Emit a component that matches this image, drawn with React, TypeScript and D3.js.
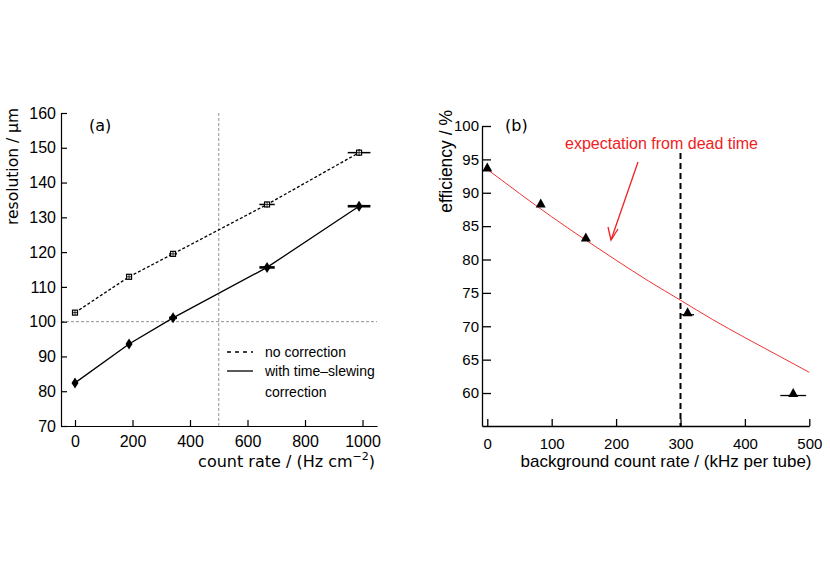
import React, { useEffect, useRef } from "react";
import * as d3 from "d3";

// Panel (a)
const rateA = [0, 188, 341, 668, 988];
const rateErrA = [0, 7.5, 13.6, 26.7, 39.5];
const noCorrection = [102.6, 112.9, 119.5, 133.7, 148.6];
const withCorrection = [82.4, 93.6, 101.1, 115.6, 133.2];
const resErr = [0.4, 0.5, 0.6, 0.8, 1.0];
const ticksXA = [0, 200, 400, 600, 800, 1000];
const ticksYA = [70, 80, 90, 100, 110, 120, 130, 140, 150, 160];

// Panel (b)
const rateB = [0, 83, 153, 311, 475];
const rateErrB = [0, 0, 0, 10, 20];
const efficiency = [93.8, 88.4, 83.3, 72.1, 60.0];
const deadTimeRate = [0, 50, 100, 150, 200, 250, 300, 350, 400, 450, 500];
const deadTimeEff = [93.5, 89.9, 86.4, 83.1, 79.9, 76.8, 73.9, 71.0, 68.3, 65.7, 63.1];
const ticksXB = [0, 100, 200, 300, 400, 500];
const ticksYB = [60, 65, 70, 75, 80, 85, 90, 95, 100];

const FONT = "'Liberation Sans', Arial, Helvetica, sans-serif";
const TEXFONT = "'DejaVu Sans', 'Liberation Sans', sans-serif";

export default function App() {
  const ref = useRef<SVGSVGElement | null>(null);

  useEffect(() => {
    const svg = d3.select(ref.current);
    svg.selectAll("*").remove();

    // ---------- Panel (a) ----------
    const xA = d3.scaleLinear().domain([-48.7, 1050.4]).range([61, 377]);
    const yA = d3.scaleLinear().domain([70, 160]).range([426, 113]);
    const gA = svg.append("g");

    gA.append("line")
      .attr("x1", 61).attr("x2", 377)
      .attr("y1", yA(100)).attr("y2", yA(100))
      .attr("stroke", "#777").attr("stroke-width", 0.8).attr("stroke-dasharray", "3,2");
    gA.append("line")
      .attr("x1", xA(500)).attr("x2", xA(500))
      .attr("y1", yA(160)).attr("y2", 426)
      .attr("stroke", "#777").attr("stroke-width", 0.8).attr("stroke-dasharray", "3,2");

    const fmt = d3.format("d");
    const axLA = gA.append("g").attr("transform", "translate(61,0)")
      .call(d3.axisLeft(yA).tickValues(ticksYA).tickFormat(fmt as any).tickSize(-6).tickSizeOuter(0).tickPadding(5));
    const axBA = gA.append("g").attr("transform", "translate(0,426)")
      .call(d3.axisBottom(xA).tickValues(ticksXA).tickFormat(fmt as any).tickSize(-6).tickSizeOuter(0).tickPadding(8));
    [axLA, axBA].forEach((a) => {
      a.selectAll("text").attr("font-size", 16).attr("font-family", FONT).attr("fill", "#000");
      a.selectAll("path,line").attr("stroke", "#000").attr("stroke-width", 1.2);
    });
    axBA.selectAll("text").attr("dy", "0.8em");

    const lineA = (vals: number[]) =>
      d3.line<number>().x((_, i) => xA(rateA[i])).y((v) => yA(v))(vals) as string;

    gA.append("path").attr("d", lineA(noCorrection)).attr("fill", "none")
      .attr("stroke", "#000").attr("stroke-width", 1.3).attr("stroke-dasharray", "3,2");
    gA.append("path").attr("d", lineA(withCorrection)).attr("fill", "none")
      .attr("stroke", "#000").attr("stroke-width", 1.3);

    noCorrection.forEach((v, i) => {
      const cx = xA(rateA[i]), cy = yA(v);
      gA.append("line").attr("x1", xA(rateA[i] - rateErrA[i])).attr("x2", xA(rateA[i] + rateErrA[i]))
        .attr("y1", cy).attr("y2", cy).attr("stroke", "#000").attr("stroke-width", 1.5);
      gA.append("line").attr("x1", cx).attr("x2", cx)
        .attr("y1", yA(v - resErr[i])).attr("y2", yA(v + resErr[i])).attr("stroke", "#000").attr("stroke-width", 1.5);
      gA.append("rect").attr("x", cx - 2.5).attr("y", cy - 2.5).attr("width", 5).attr("height", 5)
        .attr("fill", "#fff").attr("stroke", "#000").attr("stroke-width", 1.2);
      gA.append("path").attr("d", `M${cx - 2.5},${cy}H${cx + 2.5}M${cx},${cy - 2.5}V${cy + 2.5}`)
        .attr("stroke", "#000").attr("stroke-width", 0.8);
    });
    withCorrection.forEach((v, i) => {
      const cx = xA(rateA[i]), cy = yA(v);
      gA.append("line").attr("x1", xA(rateA[i] - rateErrA[i])).attr("x2", xA(rateA[i] + rateErrA[i]))
        .attr("y1", cy).attr("y2", cy).attr("stroke", "#000").attr("stroke-width", 2.6);
      gA.append("path").attr("d", `M${cx},${cy - 5.5}L${cx + 3.5},${cy}L${cx},${cy + 5.5}L${cx - 3.5},${cy}Z`)
        .attr("fill", "#000");
    });

    // legend
    gA.append("line").attr("x1", 227).attr("x2", 253).attr("y1", 352).attr("y2", 352)
      .attr("stroke", "#000").attr("stroke-width", 1.3).attr("stroke-dasharray", "4,4");
    gA.append("line").attr("x1", 227).attr("x2", 253).attr("y1", 371).attr("y2", 371)
      .attr("stroke", "#000").attr("stroke-width", 1.3);
    const legT = (t: string, y: number) =>
      gA.append("text").attr("x", 265).attr("y", y).attr("font-size", 14).attr("font-family", FONT)
        .attr("dominant-baseline", "central").text(t);
    legT("no correction", 352);
    legT("with time\u2013slewing", 371);
    legT("correction", 392);

    gA.append("text").attr("x", 89).attr("y", 131).attr("font-size", 16).attr("font-family", TEXFONT)
      .attr("fill", "#000").text("(a)");
    gA.append("text").attr("transform", "translate(18,108) rotate(-90)").attr("text-anchor", "end")
      .attr("font-size", 15.5).attr("font-family", TEXFONT).text("resolution / \u03bcm");
    const xl = gA.append("text").attr("x", 375).attr("y", 467).attr("text-anchor", "end")
      .attr("font-size", 16).attr("font-family", TEXFONT);
    xl.append("tspan").text("count rate / (Hz cm");
    xl.append("tspan").attr("dy", -7).attr("font-size", 11).text("\u22122");
    xl.append("tspan").attr("dy", 7).text(")");

    // ---------- Panel (b) ----------
    const xB = d3.scaleLinear().domain([-8.2, 500]).range([482, 809.3]);
    const yB = d3.scaleLinear().domain([55.06, 100]).range([426, 126]);
    const gB = svg.append("g");

    const axLB = gB.append("g").attr("transform", "translate(482,0)")
      .call(d3.axisLeft(yB).tickValues(ticksYB).tickSize(-9).tickSizeOuter(0).tickPadding(3));
    const axBB = gB.append("g").attr("transform", "translate(0,426)")
      .call(d3.axisBottom(xB).tickValues(ticksXB).tickSize(-7).tickSizeOuter(0).tickPadding(9));
    [axLB, axBB].forEach((a) => {
      a.selectAll("text").attr("font-size", 15).attr("font-family", FONT).attr("fill", "#000");
      a.selectAll("path,line").attr("stroke", "#000").attr("stroke-width", 1.3);
    });
    axBB.selectAll("text").attr("dy", "0.95em");

    gB.append("line").attr("x1", xB(300)).attr("x2", xB(300)).attr("y1", 153).attr("y2", 426)
      .attr("stroke", "#000").attr("stroke-width", 2).attr("stroke-dasharray", "6,4");

    const curve = d3.line<number>().x((_, i) => xB(deadTimeRate[i])).y((v) => yB(v)).curve(d3.curveMonotoneX);
    gB.append("path").attr("d", curve(deadTimeEff) as string).attr("fill", "none")
      .attr("stroke", "#ee3333").attr("stroke-width", 1);

    efficiency.forEach((v, i) => {
      const cx = xB(rateB[i]), cy = yB(v);
      if (rateErrB[i] > 0) {
        gB.append("line").attr("x1", xB(rateB[i] - rateErrB[i])).attr("x2", xB(rateB[i] + rateErrB[i]))
          .attr("y1", cy + 2.5).attr("y2", cy + 2.5).attr("stroke", "#000").attr("stroke-width", 1.3);
      }
      gB.append("path").attr("d", `M${cx},${cy - 5}L${cx + 5},${cy + 4}L${cx - 5},${cy + 4}Z`).attr("fill", "#000");
    });

    gB.append("text").attr("x", 565).attr("y", 149).attr("font-size", 16).attr("font-family", FONT)
      .attr("fill", "#ee2222").text("expectation from dead time");
    gB.append("line").attr("x1", 638).attr("y1", 162).attr("x2", 611).attr("y2", 240)
      .attr("stroke", "#ee2222").attr("stroke-width", 1.3);
    gB.append("path").attr("d", "M608,227L611,240L618,229").attr("fill", "none")
      .attr("stroke", "#ee2222").attr("stroke-width", 1.3);

    gB.append("text").attr("x", 505).attr("y", 131).attr("font-size", 16).attr("font-family", TEXFONT).text("(b)");
    gB.append("text").attr("transform", "translate(452,110) rotate(-90)").attr("text-anchor", "end")
      .attr("font-size", 17.5).attr("font-family", FONT).text("efficiency / %");
    gB.append("text").attr("x", 666).attr("y", 467).attr("text-anchor", "middle")
      .attr("font-size", 17).attr("font-family", FONT).text("background count rate / (kHz per tube)");
  }, []);

  return (
    <svg ref={ref} width={830} height={587} style={{ position: "absolute", left: 0, top: 0, background: "#fff" }} />
  );
}
